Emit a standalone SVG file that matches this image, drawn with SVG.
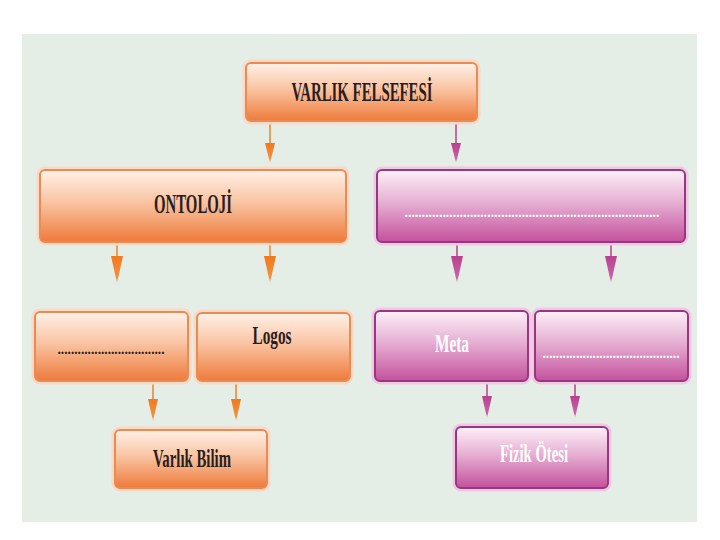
<svg xmlns="http://www.w3.org/2000/svg" width="720" height="540" viewBox="0 0 720 540">
<defs>
<linearGradient id="gO" x1="0" y1="0" x2="0" y2="1">
<stop offset="0" stop-color="#fff1e8"/>
<stop offset="0.45" stop-color="#f9c4a2"/>
<stop offset="1" stop-color="#ee7a3a"/>
</linearGradient>
<linearGradient id="gP" x1="0" y1="0" x2="0" y2="1">
<stop offset="0" stop-color="#fdf0f8"/>
<stop offset="0.45" stop-color="#e6afd3"/>
<stop offset="1" stop-color="#c4519c"/>
</linearGradient>
<linearGradient id="aO" x1="0" y1="0" x2="0" y2="1">
<stop offset="0" stop-color="#f07a1e"/>
<stop offset="0.8" stop-color="#f29040"/>
<stop offset="1" stop-color="#f6c9a0"/>
</linearGradient>
<linearGradient id="aP" x1="0" y1="0" x2="0" y2="1">
<stop offset="0" stop-color="#b8408e"/>
<stop offset="0.8" stop-color="#c864a6"/>
<stop offset="1" stop-color="#ecc6de"/>
</linearGradient>
</defs>
<style>
.o{fill:url(#gO);stroke:#e98b55;stroke-width:2}
.p{fill:url(#gP);stroke:#98377f;stroke-width:2}
.ho{fill:none;stroke:#fbd9c4;stroke-width:5}
.hp{fill:none;stroke:#efc9e2;stroke-width:5}
.t{font-family:"Liberation Serif",serif;font-weight:bold;text-anchor:middle}
.dk{fill:#2b1d1d}
.wh{fill:#ffffff}
.lo{stroke:#e8842f;stroke-width:1.5}
.lp{stroke:#b2408a;stroke-width:1.5}
</style>
<rect x="0" y="0" width="720" height="540" fill="#ffffff"/>
<rect x="22" y="34" width="675" height="488" fill="#e5ede7"/>

<g id="connectors">
<line class="lo" x1="270" y1="121" x2="270" y2="145"/>
<polygon points="265,143 275,143 270,163" fill="url(#aO)"/>
<line class="lp" x1="456" y1="121" x2="456" y2="145"/>
<polygon points="451,143 461,143 456,163" fill="url(#aP)"/>

<line class="lo" x1="117" y1="243" x2="117" y2="258"/>
<polygon points="111,256 123,256 117,283" fill="url(#aO)"/>
<line class="lo" x1="270" y1="243" x2="270" y2="258"/>
<polygon points="264,256 276,256 270,283" fill="url(#aO)"/>
<line class="lp" x1="457" y1="243" x2="457" y2="258"/>
<polygon points="451,256 463,256 457,283" fill="url(#aP)"/>
<line class="lp" x1="611" y1="243" x2="611" y2="258"/>
<polygon points="605,256 617,256 611,283" fill="url(#aP)"/>

<line class="lo" x1="153" y1="381" x2="153" y2="401"/>
<polygon points="148,399 158,399 153,421" fill="url(#aO)"/>
<line class="lo" x1="236" y1="381" x2="236" y2="401"/>
<polygon points="231,399 241,399 236,421" fill="url(#aO)"/>
<line class="lp" x1="487" y1="381" x2="487" y2="398"/>
<polygon points="482,396 492,396 487,418" fill="url(#aP)"/>
<line class="lp" x1="575" y1="381" x2="575" y2="398"/>
<polygon points="570,396 580,396 575,418" fill="url(#aP)"/>
</g>

<g id="varlik-felsefesi">
<rect class="ho" x="245" y="62" width="233" height="60" rx="6"/>
<rect class="o" x="246" y="63" width="231" height="58" rx="5"/>
<text class="t dk" x="362" y="101" font-size="28" textLength="141" lengthAdjust="spacingAndGlyphs">VARLIK FELSEFESİ</text>
</g>

<g id="ontoloji">
<rect class="ho" x="39" y="169" width="308" height="74" rx="6"/>
<rect class="o" x="40" y="170" width="306" height="72" rx="5"/>
<text class="t dk" x="193" y="213" font-size="28" textLength="78" lengthAdjust="spacingAndGlyphs">ONTOLOJİ</text>
</g>

<g id="purple-top">
<rect class="hp" x="376" y="169" width="310" height="74" rx="6"/>
<rect class="p" x="377" y="170" width="308" height="72" rx="5"/>
<text class="t wh" x="532" y="217" font-size="15" textLength="255" lengthAdjust="spacingAndGlyphs">..........................................................................</text>
</g>

<g id="left-blank">
<rect class="ho" x="34" y="311" width="155" height="71" rx="6"/>
<rect class="o" x="35" y="312" width="153" height="69" rx="5"/>
<text class="t dk" x="111" y="354" font-size="15" textLength="107" lengthAdjust="spacingAndGlyphs">................................</text>
</g>

<g id="logos">
<rect class="ho" x="196" y="312" width="155" height="70" rx="6"/>
<rect class="o" x="197" y="313" width="153" height="68" rx="5"/>
<text class="t dk" x="272" y="344" font-size="26" textLength="39" lengthAdjust="spacingAndGlyphs">Logos</text>
</g>

<g id="meta">
<rect class="hp" x="374" y="310" width="155" height="72" rx="6"/>
<rect class="p" x="375" y="311" width="153" height="70" rx="5"/>
<text class="t wh" x="452" y="352" font-size="26" textLength="34" lengthAdjust="spacingAndGlyphs">Meta</text>
</g>

<g id="right-blank">
<rect class="hp" x="534" y="310" width="155" height="72" rx="6"/>
<rect class="p" x="535" y="311" width="153" height="70" rx="5"/>
<text class="t wh" x="611" y="358" font-size="15" textLength="137" lengthAdjust="spacingAndGlyphs">.........................................</text>
</g>

<g id="varlik-bilim">
<rect class="ho" x="114" y="429" width="154" height="60" rx="6"/>
<rect class="o" x="115" y="430" width="152" height="58" rx="5"/>
<text class="t dk" x="192" y="467" font-size="25" textLength="78" lengthAdjust="spacingAndGlyphs">Varlık Bilim</text>
</g>

<g id="fizik-otesi">
<rect class="hp" x="455" y="426" width="154" height="63" rx="6"/>
<rect class="p" x="456" y="427" width="152" height="61" rx="5"/>
<text class="t wh" x="534" y="462" font-size="25" textLength="68" lengthAdjust="spacingAndGlyphs">Fizik Ötesi</text>
</g>
</svg>
